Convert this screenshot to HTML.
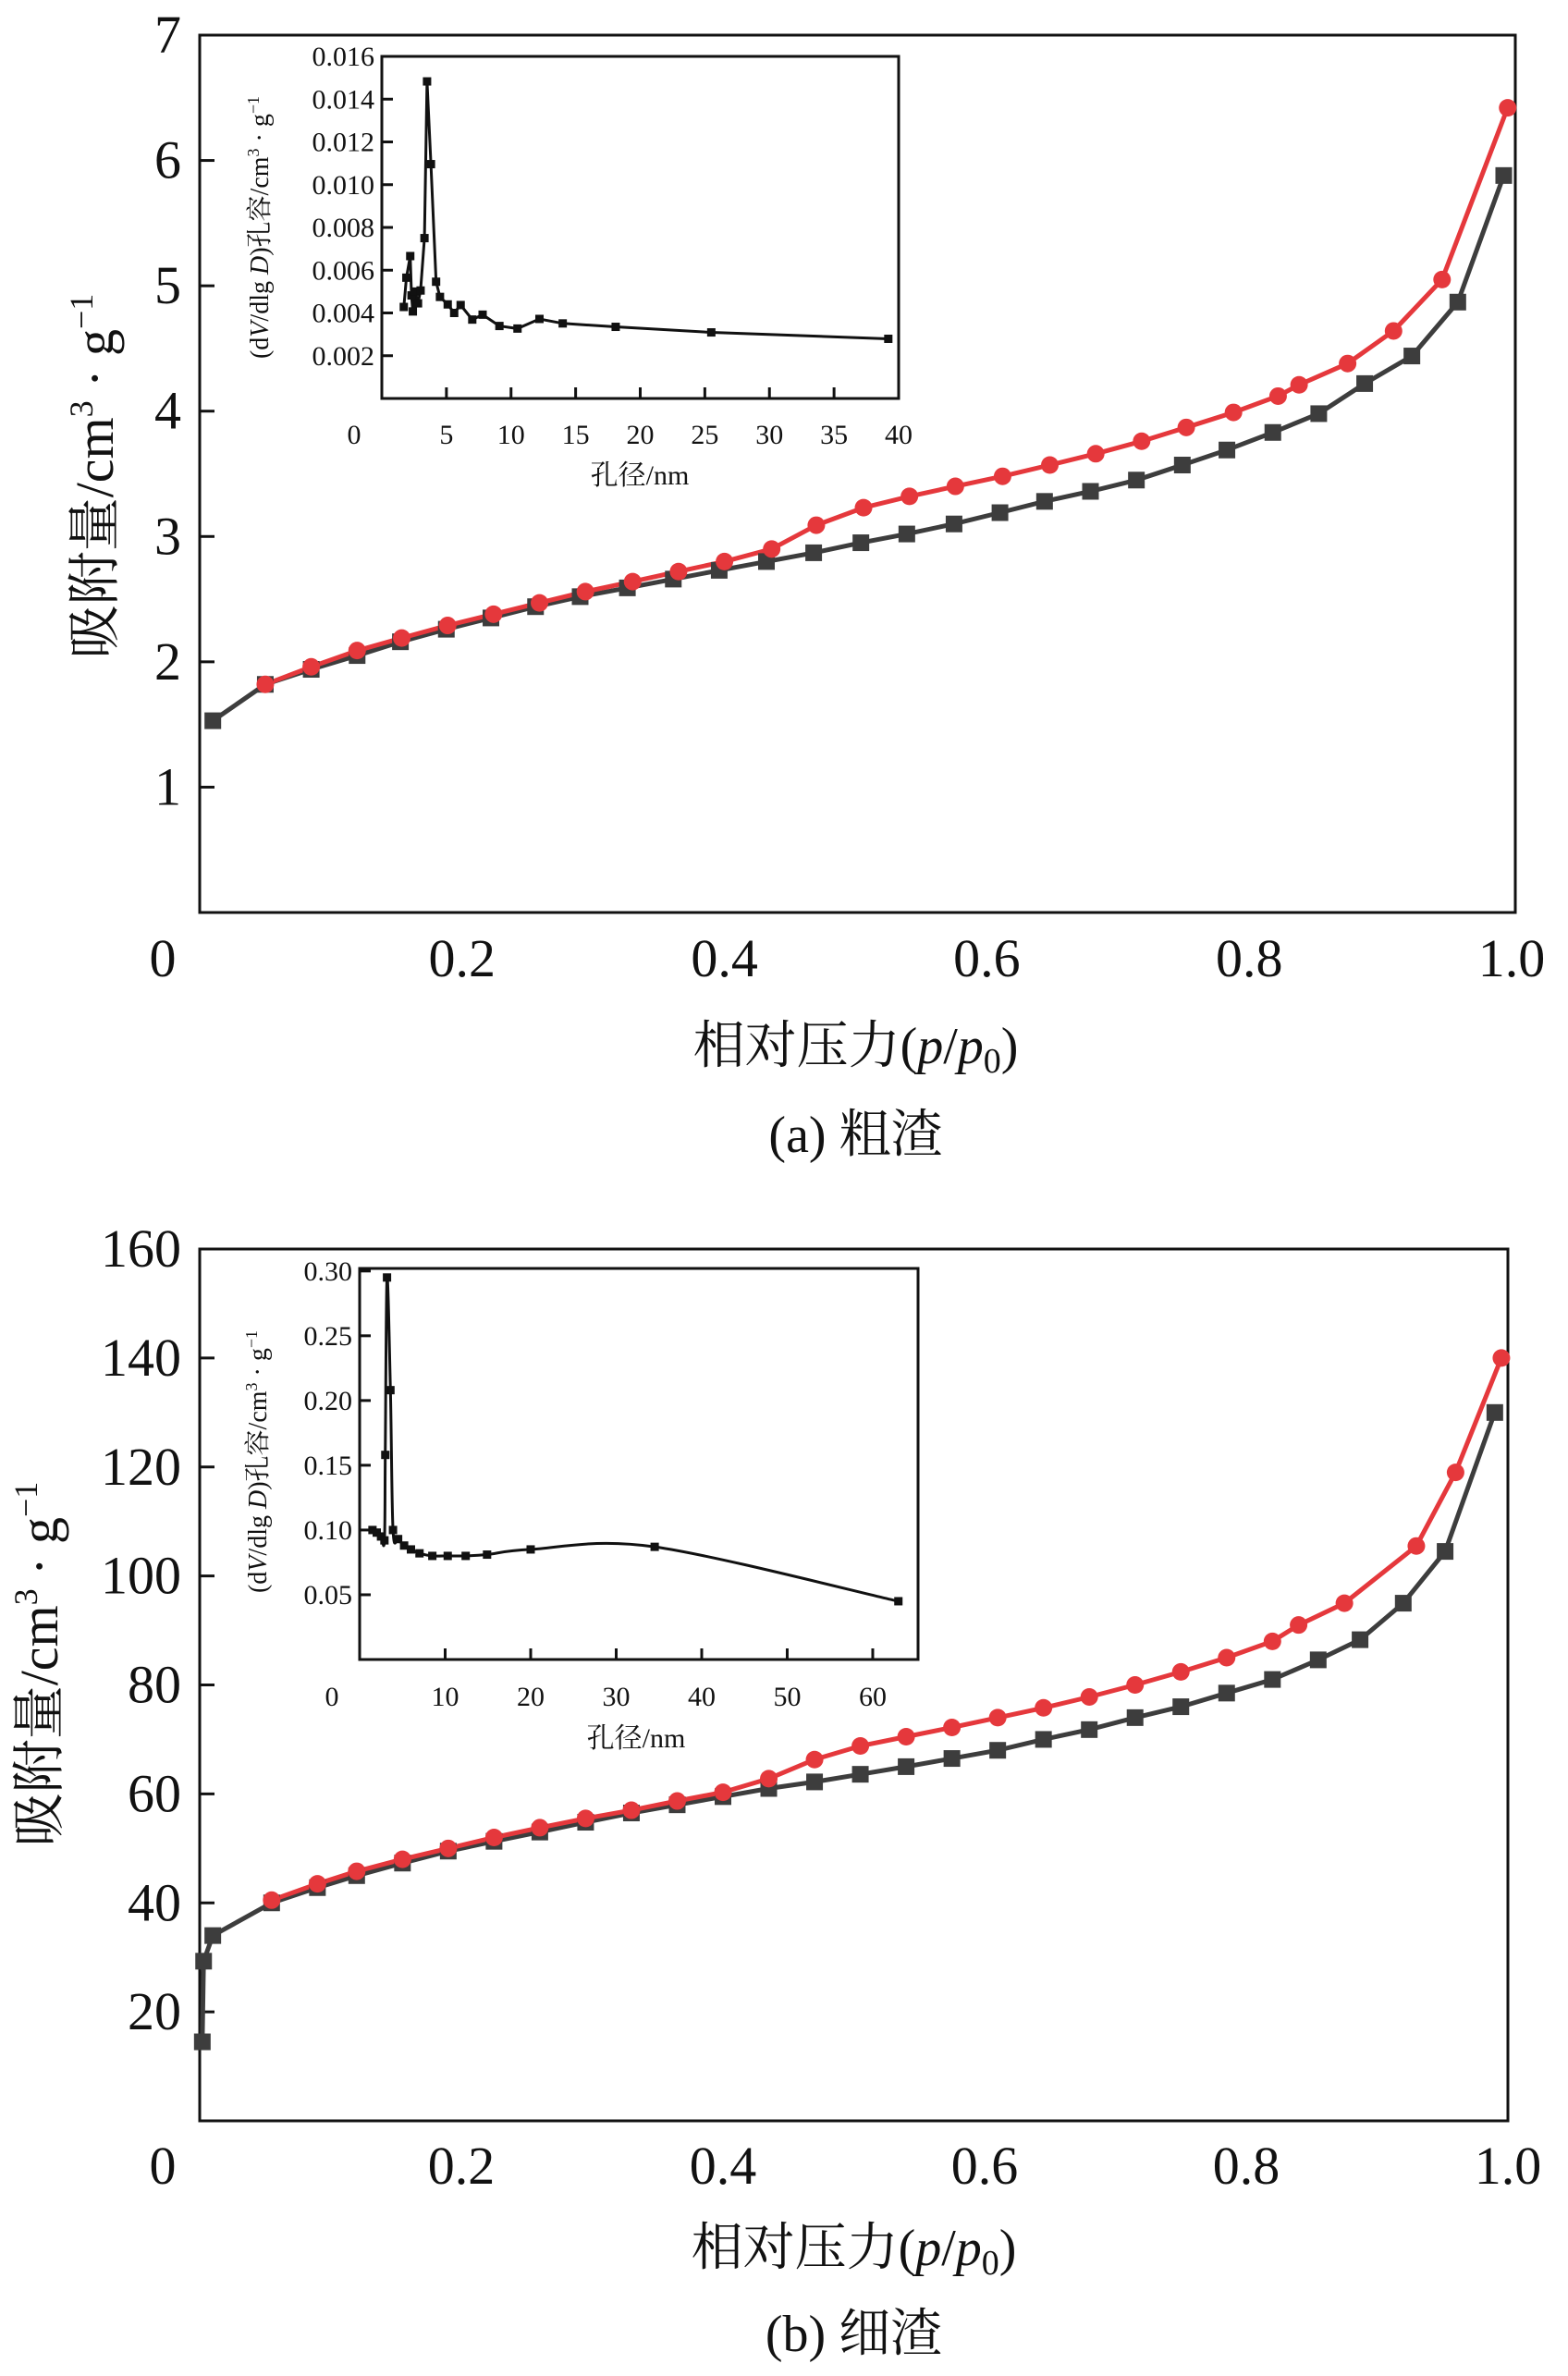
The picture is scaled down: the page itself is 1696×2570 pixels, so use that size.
<!DOCTYPE html>
<html><head><meta charset="utf-8"><style>
html,body{margin:0;padding:0;background:#fff}
svg{display:block}
text{font-family:"Liberation Serif","Noto Serif CJK SC","Noto Sans CJK SC",serif;fill:#111}
</style></head><body>
<svg id="fig" xmlns="http://www.w3.org/2000/svg" width="1696" height="2570" viewBox="0 0 1696 2570"></svg>
<script>
// ---- data: panel a (coarse slag) ----
const aXTicks=[0,0.2,0.4,0.6,0.8,1.0];
const aXTickLabels=["0","0.2","0.4","0.6","0.8","1.0"];
const aYTicks=[1,2,3,4,5,6,7];
const aAdsP=[0.01,0.05,0.085,0.12,0.153,0.188,0.222,0.256,0.29,0.326,0.361,0.396,0.432,0.468,0.504,0.539,0.575,0.61,0.644,0.679,0.714,0.749,0.783,0.818,0.853,0.888,0.924,0.959,0.994];
const aAdsV=[1.53,1.82,1.94,2.05,2.16,2.26,2.35,2.44,2.52,2.59,2.66,2.73,2.80,2.87,2.95,3.02,3.10,3.19,3.28,3.36,3.45,3.57,3.69,3.83,3.98,4.22,4.44,4.87,5.88];
const aDesP=[0.05,0.085,0.12,0.154,0.189,0.224,0.259,0.294,0.33,0.365,0.4,0.436,0.47,0.506,0.541,0.576,0.612,0.648,0.683,0.718,0.752,0.788,0.822,0.838,0.875,0.91,0.947,0.997];
const aDesV=[1.82,1.96,2.09,2.19,2.29,2.38,2.47,2.56,2.64,2.72,2.80,2.90,3.09,3.23,3.32,3.40,3.48,3.57,3.66,3.76,3.87,3.99,4.12,4.21,4.38,4.64,5.05,6.42];
const aInD=[1.7,1.9,2.2,2.3,2.4,2.6,2.8,3.0,3.3,3.5,3.8,4.2,4.5,5.1,5.6,6.1,7.0,7.8,9.1,10.5,12.2,14.0,18.1,25.5,39.2];
const aInV=[0.00428,0.00565,0.00666,0.00482,0.00407,0.0050,0.00445,0.00505,0.0075,0.01483,0.01096,0.00546,0.00475,0.0044,0.0040,0.00437,0.00369,0.00392,0.00339,0.00327,0.00372,0.00351,0.00335,0.00309,0.00279];
const aInXTicks=[0,5,10,15,20,25,30,35,40];
const aInYTicks=[0.002,0.004,0.006,0.008,0.010,0.012,0.014,0.016];
// ---- data: panel b (fine slag) ----
const bXTicks=[0,0.2,0.4,0.6,0.8,1.0];
const bXTickLabels=["0","0.2","0.4","0.6","0.8","1.0"];
const bYTicks=[20,40,60,80,100,120,140,160];
const bAdsP=[0.002,0.003,0.01,0.055,0.09,0.12,0.155,0.19,0.225,0.26,0.295,0.33,0.365,0.40,0.435,0.47,0.505,0.54,0.575,0.61,0.645,0.68,0.715,0.75,0.785,0.82,0.855,0.887,0.92,0.952,0.99];
const bAdsV=[14.5,29.3,34,40,42.8,45,47.3,49.5,51.3,53,54.8,56.5,58,59.5,61,62.2,63.6,65,66.5,68,70,71.8,74,76,78.5,81,84.6,88.3,95,104.5,130];
const bDesP=[0.055,0.09,0.12,0.155,0.19,0.225,0.26,0.295,0.33,0.365,0.40,0.435,0.47,0.505,0.54,0.575,0.61,0.645,0.68,0.715,0.75,0.785,0.82,0.84,0.875,0.93,0.96,0.995];
const bDesV=[40.5,43.5,45.8,48,50,52,53.8,55.5,57,58.7,60.3,62.8,66.3,68.8,70.5,72.2,74,75.8,77.8,80,82.4,85,88,91,95,105.5,119,140];
const bInD=[1.5,2.0,2.5,2.9,3.0,3.2,3.6,3.9,4.5,5.2,6.0,7.0,8.5,10.3,12.4,14.9,20.0,34.5,63.0];
const bInV=[0.100,0.098,0.095,0.092,0.158,0.295,0.208,0.100,0.093,0.088,0.085,0.082,0.080,0.080,0.080,0.081,0.085,0.087,0.045];
const bInXTicks=[0,10,20,30,40,50,60];
const bInYTicks=[0.05,0.10,0.15,0.20,0.25,0.30];

const NS="http://www.w3.org/2000/svg";
const svg=document.getElementById('fig');
function mk(tag,attrs,parent,txt){const e=document.createElementNS(NS,tag);for(const k in attrs)e.setAttribute(k,attrs[k]);if(txt!==undefined)e.textContent=txt;(parent||svg).appendChild(e);return e;}
function lin(d0,d1,r0,r1){return v=>r0+(v-d0)/(d1-d0)*(r1-r0);}
function pathD(xs,ys,sx,sy,smooth){
  const p=xs.map((x,i)=>[sx(x),sy(ys[i])]);
  if(!smooth)return p.map((q,i)=>(i?'L':'M')+q[0].toFixed(1)+' '+q[1].toFixed(1)).join(' ');
  let d='M'+p[0][0]+' '+p[0][1];
  for(let i=0;i<p.length-1;i++){const p0=p[Math.max(0,i-1)],p1=p[i],p2=p[i+1],p3=p[Math.min(p.length-1,i+2)];
    const c1=[p1[0]+(p2[0]-p0[0])/6,p1[1]+(p2[1]-p0[1])/6],c2=[p2[0]-(p3[0]-p1[0])/6,p2[1]-(p3[1]-p1[1])/6];
    d+=` C${c1[0].toFixed(1)} ${c1[1].toFixed(1)} ${c2[0].toFixed(1)} ${c2[1].toFixed(1)} ${p2[0].toFixed(1)} ${p2[1].toFixed(1)}`;}
  return d;
}

function mainPanel(o){
  const g=mk('g',{});
  
  
  const sx=lin(0,1,o.x0,o.x1), sy=lin(0,o.yMax,o.bottom,o.top);
  const fr=mk('rect',{x:o.x0,y:o.top,width:o.right-o.x0,height:o.bottom-o.top,fill:'none',stroke:'#111','stroke-width':3},g);
  
  o.yTicks.forEach(v=>{
    const y=sy(v);
    if(v<o.yMax){const t=mk('line',{x1:o.x0,x2:o.x0+16,y1:y,y2:y,stroke:'#111','stroke-width':3},g);
      }
    const l=mk('text',{x:o.x0-20,y:y+19,'text-anchor':'end','font-size':58},g,String(v));
    
  });
  o.xTicks.forEach((v,i)=>{
    const l=mk('text',{x:sx(v)-(v===0?40:0),y:o.xLabelY,'text-anchor':'middle','font-size':58},g,o.xTickLabels[i]);
    
  });
  const xt=mk('text',{x:(o.x0+o.x1)/2,y:o.xTitleY,'text-anchor':'middle','font-size':56},g);
  
  xt.innerHTML='相对压力(<tspan font-style="italic">p</tspan>/<tspan font-style="italic">p</tspan><tspan font-size="38" dy="10">0</tspan><tspan dy="-10">)</tspan>';
  const yt=mk('text',{x:0,y:0,'text-anchor':'middle','font-size':58,transform:`translate(${o.yTitleX},${o.yTitleY}) rotate(-90)`},g);
  
  yt.innerHTML='吸附量/cm<tspan font-size="36" dy="-22">3</tspan><tspan dy="22"> · g</tspan><tspan font-size="36" dy="-22">−1</tspan>';
  const cap=mk('text',{x:(o.x0+o.x1)/2,y:o.capY,'text-anchor':'middle','font-size':56},g,o.caption);
  
  const ads=mk('path',{d:pathD(o.adsP,o.adsV,sx,sy),fill:'none',stroke:'#3d3d3d','stroke-width':5},g);
  
  const des=mk('path',{d:pathD(o.desP,o.desV,sx,sy),fill:'none',stroke:'#e5383c','stroke-width':5},g);
  
  o.adsP.forEach((p,i)=>{const m=mk('rect',{x:sx(p)-9,y:sy(o.adsV[i])-9,width:18,height:18,fill:'#3d3d3d'},g);
    });
  o.desP.forEach((p,i)=>{const m=mk('circle',{cx:sx(p),cy:sy(o.desV[i]),r:9.5,fill:'#e5383c'},g);
    });
}

function inset(o){
  const g=mk('g',{});
  
  
  const sx=lin(0,o.xMax,o.l,o.r), sy=lin(0,o.yMax,o.b,o.t);
  mk('rect',{x:o.l,y:o.t,width:o.r-o.l,height:o.b-o.t,fill:'#fff',stroke:'#111','stroke-width':3},g);
  o.xTicks.forEach(v=>{const x=sx(v);
    if(v>0&&x<o.r-2){const t=mk('line',{x1:x,x2:x,y1:o.b,y2:o.b-12,stroke:'#111','stroke-width':3},g);
      }
    const l=mk('text',{x:x-(v===0?30:0),y:o.xLabY,'text-anchor':'middle','font-size':30},g,String(v));
    });
  o.yTicks.forEach(v=>{const y=sy(v);
    const t=mk('line',{x1:o.l,x2:o.l+12,y1:y,y2:y,stroke:'#111','stroke-width':3},g);
    
    const l=mk('text',{x:o.l-8,y:y+10,'text-anchor':'end','font-size':30},g,v.toFixed(o.dec));
    });
  const xt=mk('text',{x:o.xTitX,y:o.xTitY,'text-anchor':'middle','font-size':30},g,'孔径/nm');
  
  const yt=mk('text',{x:0,y:0,'text-anchor':'middle','font-size':28,transform:`translate(${o.yTitX},${o.yTitY}) rotate(-90)`},g);
  
  yt.innerHTML='(d<tspan font-style="italic">V</tspan>/dlg <tspan font-style="italic">D</tspan>)孔容/cm<tspan font-size="18" dy="-10">3</tspan><tspan dy="10"> · g</tspan><tspan font-size="18" dy="-10">−1</tspan>';
  const ln=mk('path',{d:pathD(o.d,o.v,sx,sy,o.smooth),fill:'none',stroke:'#111','stroke-width':3},g);
  
  o.d.forEach((d,i)=>{const m=mk('rect',{x:sx(d)-4.5,y:sy(o.v[i])-4.5,width:9,height:9,fill:'#111'},g);
    });
}

mainPanel({name:'panel-a-coarse-slag',x0:216,x1:1635,right:1639,top:38,bottom:987,yMax:7,
  yTicks:aYTicks,xTicks:aXTicks,xTickLabels:aXTickLabels,xLabelY:1056,xTitleY:1150,capY:1246,
  yTitleX:122,yTitleY:515,caption:'(a) 粗渣',adsP:aAdsP,adsV:aAdsV,desP:aDesP,desV:aDesV});
inset({name:'inset-a',l:413,r:972,t:61,b:431,xMax:40,yMax:0.016,xTicks:aInXTicks,yTicks:aInYTicks,dec:3,
  xLabY:480,xTitX:692,xTitY:524,yTitX:290,yTitY:246,d:aInD,v:aInV,smooth:false});

mainPanel({name:'panel-b-fine-slag',x0:216,x1:1631,right:1631,top:1351,bottom:2294,yMax:160,
  yTicks:bYTicks,xTicks:bXTicks,xTickLabels:bXTickLabels,xLabelY:2362,xTitleY:2450,capY:2543,
  yTitleX:62,yTitleY:1800,caption:'(b) 细渣',adsP:bAdsP,adsV:bAdsV,desP:bDesP,desV:bDesV});
inset({name:'inset-b',l:389,r:993,t:1372,b:1795,xMax:65.3,yMax:0.302,xTicks:bInXTicks,yTicks:bInYTicks,dec:2,
  xLabY:1845,xTitX:688,xTitY:1890,yTitX:288,yTitY:1581,d:bInD,v:bInV,smooth:true});
</script>
</body></html>
